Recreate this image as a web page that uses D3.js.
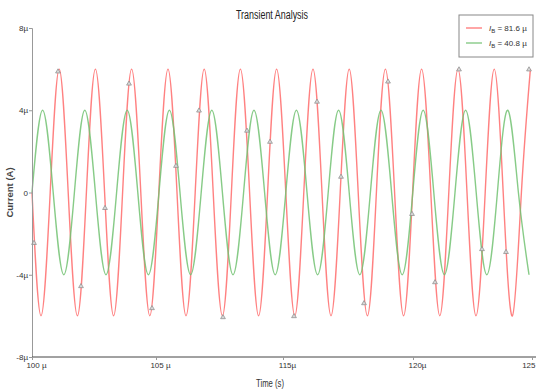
<!DOCTYPE html>
<html>
<head>
<meta charset="utf-8">
<script src="https://cdn.jsdelivr.net/npm/d3@7"></script>
<style>
  body { margin: 0; background: #fff; }
  svg { display: block; font-family: "Liberation Sans Narrow", "Arial Narrow", "Liberation Sans", sans-serif; }
</style>
</head>
<body>
<div id="chart"></div>
<script>
'use strict';

// Times (µs) and currents (µA): zero crossings and extrema.
const redT = [100.00, 100.45, 100.91, 101.36, 101.81, 102.27, 102.72, 103.17, 103.63, 104.08,
  104.53, 104.98, 105.44, 105.89, 106.34, 106.80, 107.25, 107.70, 108.16, 108.61,
  109.06, 109.52, 109.97, 110.42, 110.88, 111.33, 111.78, 112.23, 112.69, 113.14,
  113.59, 114.05, 114.50, 114.95, 115.41, 115.86, 116.31, 116.77, 117.22, 117.67,
  118.13, 118.58, 119.03, 119.48, 119.94, 120.39, 120.84, 121.30, 121.75, 122.20,
  122.66, 123.11, 123.56, 124.02, 124.47, 124.92];
const redV = [0, -6, 0, 6, 0, -6, 0, 6, 0, -6,
  0, 6, 0, -6, 0, 6, 0, -6, 0, 6,
  0, -6, 0, 6, 0, -6, 0, 6, 0, -6,
  0, 6, 0, -6, 0, 6, 0, -6, 0, 6,
  0, -6, 0, 6, 0, -6, 0, 6, 0, -6,
  0, 6, 0, -6, 0, 6];

const greenT = [100.00, 100.53, 101.06, 101.59, 102.12, 102.64, 103.17, 103.70, 104.23, 104.76,
  105.29, 105.82, 106.35, 106.87, 107.40, 107.93, 108.46, 108.99, 109.52, 110.05,
  110.58, 111.10, 111.63, 112.16, 112.69, 113.22, 113.75, 114.28, 114.81, 115.33,
  115.86, 116.39, 116.92, 117.45, 117.98, 118.51, 119.04, 119.56, 120.09, 120.62,
  121.15, 121.68, 122.21, 122.74, 123.27, 123.79, 124.32, 124.85];
const greenV = [0, 4, 0, -4, 0, 4, 0, -4, 0, 4,
  0, -4, 0, 4, 0, -4, 0, 4, 0, -4,
  0, 4, 0, -4, 0, 4, 0, -4, 0, 4,
  0, -4, 0, 4, 0, -4, 0, 4, 0, -4,
  0, 4, 0, -4, 0, 4, 0, -4];

// Triangle markers sitting on the red trace.
const markT = [100.10, 101.30, 102.45, 103.65, 104.85, 106.00, 107.20, 108.35, 109.55, 110.75, 111.90,
  113.10, 114.25, 115.45, 116.60, 117.80, 119.00, 120.15, 121.35, 122.50, 123.70, 124.85];
const markV = [-2.46, 5.88, -4.56, -0.76, 5.29, -5.63, 1.29, 3.98, -6.07, 3.0, 2.46,
  -6.02, 4.41, 0.76, -5.39, 5.39, -1.05, -4.37, 5.98, -2.76, -2.90, 5.98];

const xTicks = [100, 106.2, 112.55, 119.05, 125];
const xTickLabels = ['100 µ', '105 µ', '115µ', '120µ', '125'];
const yTicks = [8, 4, 0, -4, -8];
const yTickLabels = ['8µ', '4µ', '0', '-4µ', '-8µ'];

const seriesNames = ['81.6 µ', '40.8 µ'];
const seriesColors = ['#ff6b6b', '#72c272'];

const width = 536, height = 392;
const margin = { top: 28, right: 4, bottom: 35, left: 32 };

const $svg = d3.select('#chart').append('svg')
  .attr('width', width)
  .attr('height', height);

const x = d3.scaleLinear().domain([100, 125]).range([margin.left, 532]);
const y = d3.scaleLinear().domain([-8, 8]).range([height - margin.bottom, margin.top]);

const zip = (ts, vs) => ts.map((t, i) => ({ t: t, v: vs[i] }));
const series = [zip(redT, redV), zip(greenT, greenV)];

// Title and axis labels (squeezed to mimic the narrow face of the original).
$svg.append('text')
  .attr('x', 272).attr('y', 19)
  .attr('text-anchor', 'middle')
  .attr('font-size', 12)
  .attr('textLength', 72)
  .attr('lengthAdjust', 'spacingAndGlyphs')
  .attr('fill', '#222')
  .text('Transient Analysis');

$svg.append('text')
  .attr('transform', 'translate(13,' + y(0) + ') rotate(-90)')
  .attr('text-anchor', 'middle')
  .attr('font-family', '"Liberation Sans", Arial, sans-serif')
  .attr('font-weight', 'bold')
  .attr('font-size', 9.5)
  .attr('fill', '#444')
  .text('Current (A)');

$svg.append('text')
  .attr('x', 270).attr('y', 387)
  .attr('text-anchor', 'middle')
  .attr('font-size', 10)
  .attr('textLength', 28)
  .attr('lengthAdjust', 'spacingAndGlyphs')
  .attr('fill', '#333')
  .text('Time (s)');

// Traces.
const line = d3.line()
  .x(d => x(d.t))
  .y(d => y(d.v))
  .curve(d3.curveNatural);

const $plot = $svg.append('g');
series.forEach((s, i) => {
  $plot.append('path')
    .datum(s)
    .attr('fill', 'none')
    .attr('stroke', seriesColors[i])
    .attr('stroke-width', 1.4)
    .attr('stroke-opacity', 0.85)
    .attr('d', line);
});

const tri = d3.symbol().type(d3.symbolTriangle).size(10);
$plot.selectAll('.mark')
  .data(zip(markT, markV))
  .join('path')
  .attr('class', 'mark')
  .attr('transform', d => 'translate(' + x(d.t) + ',' + y(d.v) + ')')
  .attr('d', tri)
  .attr('fill', '#d8d8d8')
  .attr('stroke', '#888')
  .attr('stroke-width', 0.7);

// Axes.
const yAxis = d3.axisLeft(y)
  .tickValues(yTicks)
  .tickSize(3)
  .tickFormat((d, i) => yTickLabels[i]);

const $yAxis = $svg.append('g')
  .attr('transform', 'translate(' + margin.left + ',0)')
  .call(yAxis);
$yAxis.select('.domain').attr('stroke', '#999');
$yAxis.selectAll('.tick line').attr('stroke', '#999');
$yAxis.selectAll('.tick text')
  .attr('font-family', 'inherit')
  .attr('font-size', 8)
  .attr('fill', '#333')
  .attr('x', -4);

const xAxis = d3.axisBottom(x)
  .tickValues(xTicks)
  .tickSize(3)
  .tickSizeOuter(0)
  .tickFormat((d, i) => xTickLabels[i]);

const $xAxis = $svg.append('g')
  .attr('transform', 'translate(0,' + y(-8) + ')')
  .call(xAxis);
$xAxis.select('.domain')
  .attr('stroke', '#444')
  .attr('d', 'M' + margin.left + ',0H' + width);
$xAxis.selectAll('.tick line').attr('stroke', '#999');
$xAxis.selectAll('.tick text')
  .attr('font-family', 'inherit')
  .attr('font-size', 8)
  .attr('fill', '#333')
  .attr('text-anchor', (d, i) => i === xTicks.length - 1 ? 'end' : 'middle')
  .attr('dx', (d, i) => i === xTicks.length - 1 ? 3 : 4)
  .attr('y', 5);

// Legend.
const $legend = $svg.append('g').attr('transform', 'translate(459,15)');
$legend.append('rect')
  .attr('width', 74).attr('height', 42)
  .attr('fill', '#fff')
  .attr('stroke', '#888');

seriesNames.forEach((name, i) => {
  const $row = $legend.append('g').attr('transform', 'translate(0,' + (13 + i * 15) + ')');
  $row.append('line')
    .attr('x1', 7).attr('x2', 23)
    .attr('stroke', seriesColors[i])
    .attr('stroke-width', 1.2);
  const $t = $row.append('text')
    .attr('x', 30).attr('y', 3)
    .attr('font-size', 8)
    .attr('fill', '#333');
  $t.append('tspan').attr('font-style', 'italic').text('I');
  $t.append('tspan').attr('font-size', 6).attr('dy', 2).text('B');
  $t.append('tspan').attr('dy', -2).text(' = ' + name);
});
</script>
</body>
</html>
